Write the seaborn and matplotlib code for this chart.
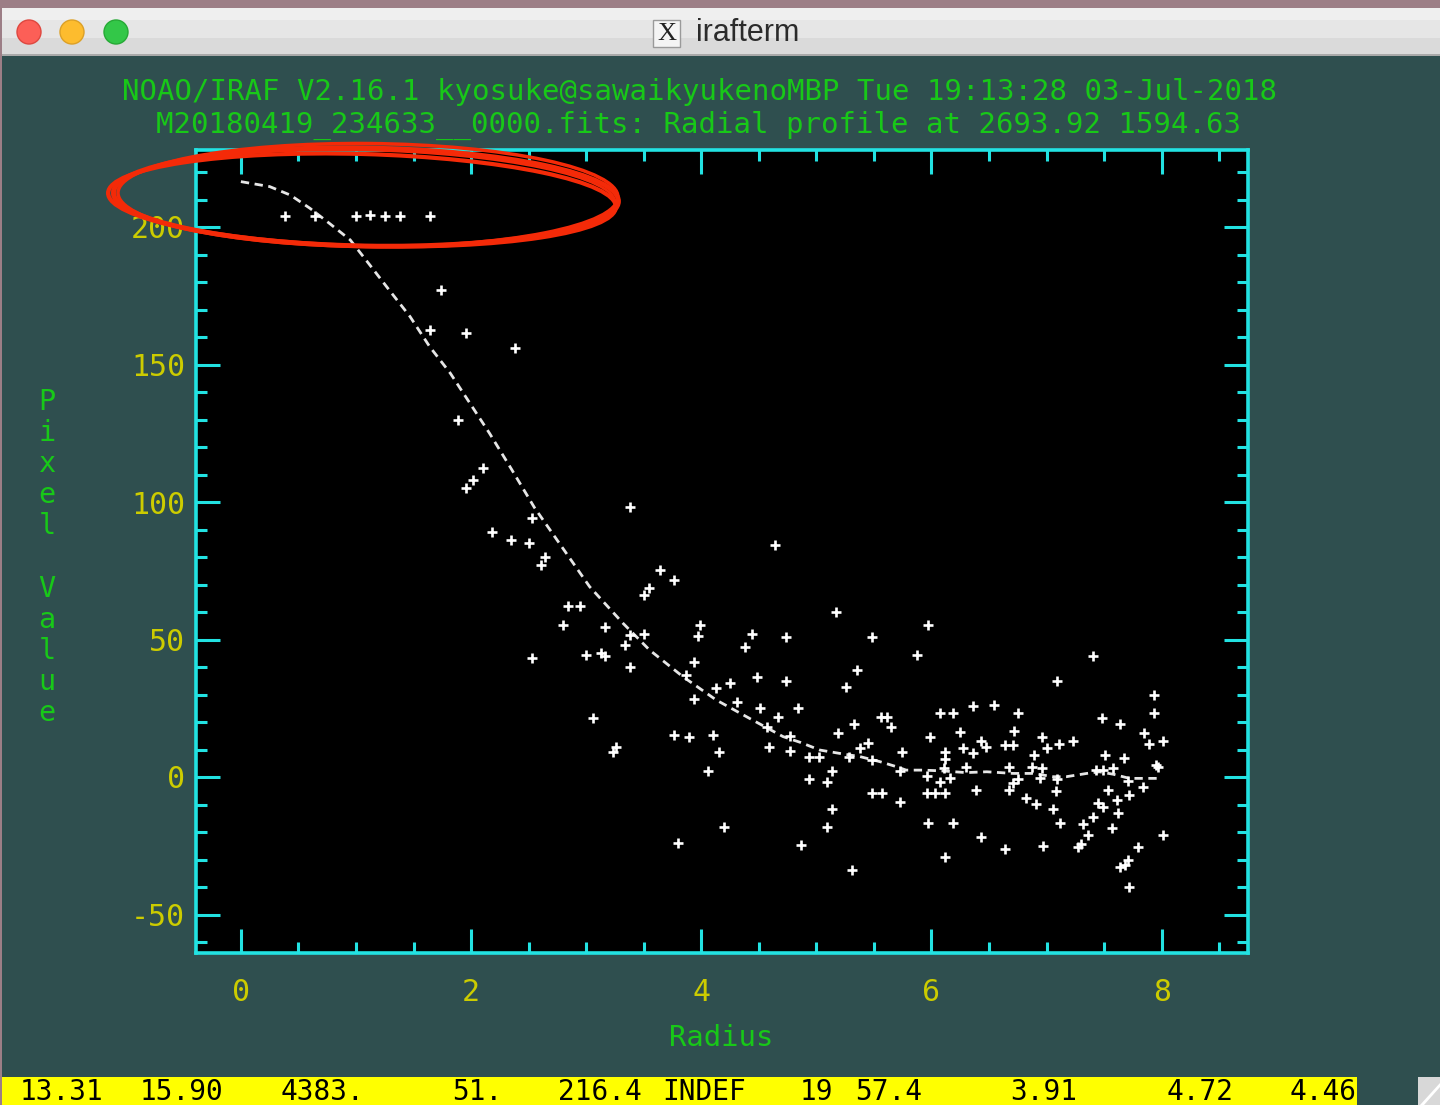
import matplotlib
matplotlib.use("Agg")
import matplotlib.pyplot as plt
import seaborn as sns
import pandas as pd
from matplotlib.patches import Rectangle, Ellipse, Circle, Polygon
from matplotlib.ticker import MultipleLocator

# ---------------- data ----------------
RADIUS = [
    0.38, 0.64, 1.00, 1.12, 1.25, 1.38, 1.64, 1.74, 1.64, 1.96,
    2.38, 1.89, 2.10, 2.02, 1.96, 3.38, 2.53, 2.18, 2.35, 2.50,
    4.64, 2.64, 2.61, 3.64, 3.76, 3.55, 3.50, 2.84, 2.95, 5.17,
    5.97, 3.99, 2.80, 3.16, 3.97, 4.44, 4.74, 5.48, 3.38, 3.50,
    3.34, 4.38, 5.87, 2.53, 3.00, 3.13, 3.16, 3.38, 3.94, 5.35,
    3.87, 4.48, 4.74, 5.26, 4.13, 4.25, 3.94, 4.31, 4.51, 4.84,
    4.67, 5.61, 5.56, 6.07, 5.65, 3.06, 4.57, 5.19, 5.33, 5.99,
    3.76, 3.89, 4.10, 3.26, 3.23, 4.77, 5.45, 4.77, 4.59, 4.94,
    5.02, 5.28, 5.48, 5.74, 6.12, 4.15, 5.73, 5.14, 5.96, 6.07,
    4.06, 4.94, 5.09, 5.48, 5.57, 5.73, 5.96, 6.03, 6.12, 5.14,
    5.09, 5.97, 4.20, 3.80, 4.87, 5.31, 6.12,
    7.40, 7.09, 7.93, 7.93, 6.19, 6.36, 6.54, 6.75, 7.48, 7.64,
    6.25, 6.72, 7.85, 6.96, 7.89, 8.01, 6.43, 7.23, 6.47, 6.64,
    6.71, 7.00, 7.11, 6.27, 5.38, 6.36, 6.89, 7.51, 7.67, 6.12,
    7.95, 7.97, 6.30, 6.67, 6.87, 6.96, 7.43, 7.49, 7.58, 6.11,
    6.16, 6.75, 6.94, 7.09, 7.71, 6.71, 7.84, 6.39, 6.67, 7.08,
    7.53, 7.72, 7.61, 6.82, 6.91, 7.45, 7.49, 7.06, 7.62, 7.40,
    6.19, 7.12, 7.32, 7.57, 6.43, 7.36, 8.01, 7.79, 6.97, 6.64,
    7.30, 7.27, 7.71, 7.68, 7.64, 7.72,
]
PIXEL_VALUE = [
    204, 204, 204, 204.4, 204, 204, 204, 177, 162.5, 161.3,
    155.9, 130, 112.2, 108, 105, 98.3, 94.1, 89.2, 86.2, 85.2,
    84.4, 80.1, 77.1, 75.3, 71.6, 68.6, 66.2, 62.2, 62.2, 60.1,
    55.3, 55.3, 55.3, 54.7, 51.3, 52.0, 50.8, 50.8, 51.6, 52.0,
    48.0, 47.4, 44.4, 43.2, 44.4, 45.0, 44.0, 40.1, 41.9, 38.9,
    37.1, 36.2, 35.0, 32.8, 32.3, 34.1, 28.2, 27.4, 25.0, 25.0,
    21.9, 21.9, 21.9, 23.2, 18.3, 21.3, 18.3, 16.1, 19.3, 14.4,
    15.3, 14.4, 15.3, 11.0, 9.2, 14.9, 12.2, 9.6, 11.0, 7.1,
    7.1, 7.4, 6.2, 9.2, 9.2, 9.2, 2.3, 2.3, 0.4, -1.7,
    2.3, -0.8, -1.7, -5.9, -5.7, -9.0, -5.7, -5.7, -5.9, -11.8,
    -18.1, -16.8, -18.1, -23.9, -24.7, -33.8, -29.0,
    44, 35, 29.8, 23.4, 23.4, 25.8, 26.2, 23.4, 21.3, 19.3,
    16.2, 16.8, 16.1, 14.4, 12.0, 13.1, 13.2, 13.1, 11.0, 11.6,
    11.6, 10.4, 12.0, 10.4, 10.4, 8.9, 8.0, 8.0, 7.0, 6.7,
    4.4, 3.5, 3.7, 3.7, 3.7, 3.2, 2.5, 2.5, 3.2, 3.2,
    -0.5, -0.8, -0.5, -0.8, -1.5, -2.3, -3.7, -4.7, -4.7, -5.0,
    -4.7, -6.5, -8.4, -7.8, -9.8, -9.6, -10.8, -11.8, -13.2, -14.7,
    -16.8, -16.8, -17.1, -18.7, -21.9, -21.1, -21.1, -25.6, -25.0, -26.0,
    -24.4, -25.6, -30.0, -32.0, -32.8, -39.9,
]
FIT_RADIUS = [0.0, 0.25, 0.43, 0.60, 0.77, 0.95, 1.12, 1.29, 1.47, 1.64,
              1.82, 1.99, 2.16, 2.35, 2.55, 2.75, 3.03, 3.32, 3.55, 3.84,
              4.13, 4.42, 4.71, 4.86, 5.03, 5.20, 5.38, 5.55, 5.70, 5.78,
              5.93, 6.10, 6.30, 6.48, 6.71, 6.88, 7.06, 7.17, 7.35, 7.46,
              7.58, 7.72, 8.00]
FIT_VALUE = [216.5, 214.7, 211.6, 206.8, 201.3, 195.3, 186.2, 177.0, 167.4, 156.5,
             146.8, 135.9, 125.0, 112.0, 98.0, 86.0, 69.2, 55.9, 46.2, 36.5,
             28.0, 21.3, 14.7, 12.6, 9.8, 8.6, 7.4, 5.6, 3.7, 2.5,
             2.5, 2.2, 1.6, 1.9, 1.3, 1.3, 0.1, 0.1, 1.3, 1.9,
             1.0, -0.5, -0.5]
X_TICKS = [0, 2, 4, 6, 8]
Y_TICKS = [-50, 0, 50, 100, 150, 200]
TITLE_1 = "NOAO/IRAF V2.16.1 kyosuke@sawaikyukenoMBP Tue 19:13:28 03-Jul-2018"
TITLE_2 = "M20180419_234633__0000.fits: Radial profile at 2693.92 1594.63"
X_LABEL = "Radius"
Y_LABEL = "Pixel Value"
WINDOW_TITLE = "irafterm"
STATUS_TOKENS = ["13.31", "15.90", "4383.", "51.", "216.4", "INDEF",
                 "19", "57.4", "3.91", "4.72", "4.46"]

# ---------------- style ----------------
sns.set_theme(style="dark")
plt.rcParams['font.family'] = ['DejaVu Sans Mono']
plt.rcParams['axes.unicode_minus'] = False

SLATE = '#2f4f4f'
CYAN = '#22e2e2'
YELLOW = '#cccc00'
GREEN = '#18c818'
RED = '#f42a08'

W, H = 1440, 1105
fig = plt.figure(figsize=(W / 100, H / 100), dpi=100)
fig.patch.set_facecolor('#9c7e86')


def fx(x):
    return x / W


def fy(y):
    return 1 - y / H


def rect(x0, y0, x1, y1, color, z=-10, **kw):
    fig.add_artist(Rectangle((fx(x0), fy(y1)), (x1 - x0) / W, (y1 - y0) / H,
                             transform=fig.transFigure, facecolor=color,
                             edgecolor='none', zorder=z, **kw))


# window chrome
rect(2, 8, W, 20, '#efefef')
rect(2, 20, W, 38, '#e6e6e6')
rect(2, 38, W, 55, '#dadada')
rect(2, 54, W, 56, '#a9a9a9')
rect(2, 56, W, H, SLATE)
for cx, col, ec in [(29, '#fc5f57', '#de473f'), (72, '#fdbc2e', '#dca026'),
                    (116, '#33c748', '#26a935')]:
    fig.add_artist(Circle((cx / 100, (H - 32) / 100), 0.12, transform=fig.dpi_scale_trans,
                          facecolor=col, edgecolor=ec, lw=1, zorder=-5))
fig.add_artist(Rectangle((653 / 100, (H - 47) / 100), 0.27, 0.27, transform=fig.dpi_scale_trans,
                         facecolor='#f4f4f4', edgecolor='#9a9a9a', lw=1, zorder=-5))
fig.text(fx(666.5), fy(34), "X", ha='center', va='center', fontsize=19,
         family='Liberation Serif', color='#222222')
fig.text(fx(696), fy(33), WINDOW_TITLE, ha='left', va='center', fontsize=22,
         family='Liberation Sans', color='#2b2b2b')

# status bar
rect(2, 1077, 1357, H, '#ffff00', z=-5)
rect(1418, 1077, W, H, '#d8d8d8', z=-5)
fig.add_artist(Polygon([(fx(1420), fy(1105)), (fx(1440), fy(1083)), (fx(1440), fy(1087)),
                        (fx(1424), fy(1105))], closed=True, transform=fig.transFigure,
                       facecolor='white', edgecolor='none', zorder=-4))
status_x = [20, 140, 281, 452, 558, 662, 800, 855, 1010, 1167, 1290]
for tok, x in zip(STATUS_TOKENS, status_x):
    fig.text(fx(x), fy(1092), tok, ha='left', va='center', fontsize=20, color='black')

# ---------------- plot ----------------
ax = fig.add_axes([fx(196), fy(953), (1248 - 196) / W, (953 - 150) / H])
ax.set_facecolor('black')
df = pd.DataFrame({'radius': RADIUS, 'value': PIXEL_VALUE})
fit = pd.DataFrame({'radius': FIT_RADIUS, 'value': FIT_VALUE})

sns.lineplot(data=fit, x='radius', y='value', ax=ax, color='#e6e6e6', linewidth=2.0,
             linestyle=(0, (3.0, 2.0)), sort=False, estimator=None, zorder=2)
sns.scatterplot(data=df, x='radius', y='value', ax=ax, marker='+', s=60,
                color='white', linewidth=1.9, zorder=3, legend=False)

ax.set_xlim(-0.39, 8.75)
ax.set_ylim(-64, 228)
ax.set_xticks(X_TICKS, labels=[str(v) for v in X_TICKS])
ax.set_yticks(Y_TICKS, labels=[str(v) for v in Y_TICKS])
ax.xaxis.set_minor_locator(MultipleLocator(0.5))
ax.yaxis.set_minor_locator(MultipleLocator(10))
ax.grid(False)
ax.set_xlabel('')
ax.set_ylabel('')
ax.tick_params(which='both', direction='in', top=True, right=True, bottom=True, left=True,
               color=CYAN, width=2.2)
ax.tick_params(which='major', length=17, labelsize=21.5, labelcolor=YELLOW)
ax.tick_params(which='minor', length=8)
ax.tick_params(axis='x', which='major', pad=18)
ax.tick_params(axis='y', which='major', pad=8)
for s in ax.spines.values():
    s.set_visible(True)
    s.set_color(CYAN)
    s.set_linewidth(2.6)

# texts
fig.text(fx(699), fy(92), TITLE_1, ha='center', va='center', fontsize=20.9, color=GREEN)
fig.text(fx(699), fy(125), TITLE_2, ha='center', va='center', fontsize=20.9, color=GREEN)
fig.text(fx(721), fy(1038), X_LABEL, ha='center', va='center', fontsize=20.8, color=GREEN)
for i, ch in enumerate(Y_LABEL):
    if ch.strip():
        fig.text(fx(47), fy(402 + i * 31.1), ch, ha='center', va='center',
                 fontsize=20.5, color=GREEN)

# hand-drawn red annotation ellipse
for (cx, cy, w, h, ang, lw) in [(366, 197, 505, 98, -1.0, 3.5), (368, 195, 500, 103, -0.5, 2.5),
                                (362, 200, 508, 92, -1.6, 3.0), (364, 198, 503, 96, -1.2, 2.0)]:
    fig.add_artist(Ellipse((cx / 100, (H - cy) / 100), w / 100, h / 100, angle=ang,
                           transform=fig.dpi_scale_trans, facecolor='none',
                           edgecolor=RED, lw=lw, zorder=20))

fig.savefig('out.png', dpi=100, facecolor=fig.get_facecolor())
